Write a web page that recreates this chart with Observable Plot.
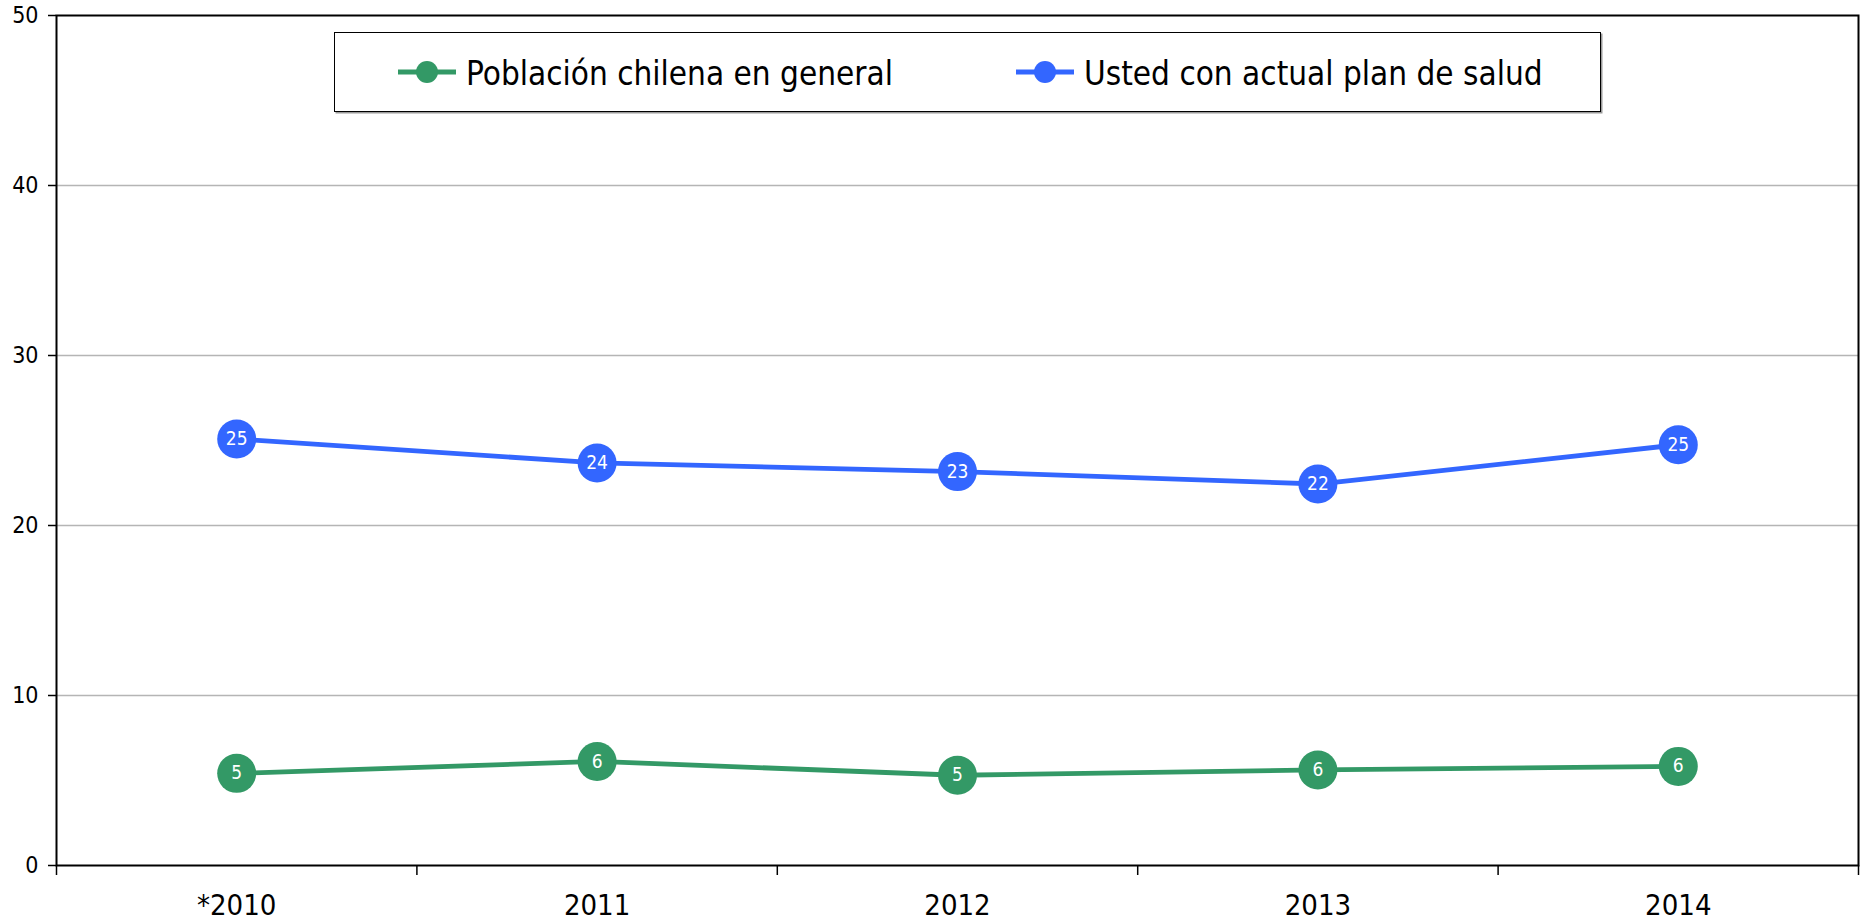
<!DOCTYPE html>
<html>
<head>
<meta charset="utf-8">
<script src="https://cdn.jsdelivr.net/npm/d3@7"></script>
<script src="https://cdn.jsdelivr.net/npm/@observablehq/plot@0.6"></script>
<style>
  html, body { margin: 0; padding: 0; background: white; }
  #wrap { position: relative; width: 1860px; height: 921px; overflow: hidden; font-family: "DejaVu Sans Condensed", "DejaVu Sans", sans-serif; font-stretch: condensed; }
  #legendBox { position: absolute; left: 334px; top: 32px; width: 1265px; height: 78px; border: 1.5px solid #000; box-shadow: 1.5px 1.5px 0 #9a9a9a; background: white; }
  .item { position: absolute; font-size: 33px; line-height: 1; color: #000; white-space: nowrap; }
  .sw { position: absolute; }
</style>
</head>
<body>
<div id="wrap"></div>
<script>
const categories = ["*2010", "2011", "2012", "2013", "2014"];
const seriesNames = ["Población chilena en general", "Usted con actual plan de salud"];
const seriesColors = ["#339966", "#3366FF"];
const poblacion = [5.42, 6.12, 5.31, 5.62, 5.83];
const usted = [25.09, 23.68, 23.17, 22.44, 24.75];
const poblacionLabels = ["5", "6", "5", "6", "6"];
const ustedLabels = ["25", "24", "23", "22", "25"];
const yTicks = [0, 10, 20, 30, 40, 50];
const gridTicks = [10, 20, 30, 40];

const rows = [];
categories.forEach((c, i) => {
  rows.push({pos: i + 0.5, value: poblacion[i], label: poblacionLabels[i], series: seriesNames[0]});
});
categories.forEach((c, i) => {
  rows.push({pos: i + 0.5, value: usted[i], label: ustedLabels[i], series: seriesNames[1]});
});
const boundaries = d3.range(categories.length + 1);
const centers = categories.map((c, i) => i + 0.5);

const chart = Plot.plot({
  width: 1860,
  height: 921,
  marginLeft: 56,
  marginRight: 2,
  marginTop: 15,
  marginBottom: 56,
  style: {fontFamily: '"DejaVu Sans Condensed", "DejaVu Sans", sans-serif', background: "white", overflow: "visible"},
  x: {type: "linear", domain: [0, categories.length], label: null},
  y: {domain: [0, 50], label: null},
  color: {domain: seriesNames, range: seriesColors},
  marks: [
    Plot.gridY(gridTicks, {stroke: "#b5b5b5", strokeOpacity: 1, strokeWidth: 1.3}),
    Plot.frame({stroke: "#000", strokeWidth: 2}),
    Plot.axisY(yTicks, {tickSize: 8, tickPadding: 10, fontSize: 23, stroke: "#000", strokeWidth: 1.5, fill: "#000"}),
    Plot.axisX(boundaries, {tickSize: 10, tickFormat: () => "", stroke: "#000", strokeWidth: 1.5}),
    Plot.axisX(centers, {tickSize: 0, tickPadding: 29, fontSize: 29, fill: "#000", tickFormat: d => categories[Math.floor(d)]}),
    Plot.line(rows, {x: "pos", y: "value", z: "series", stroke: "series", strokeWidth: 4.8}),
    Plot.dot(rows, {x: "pos", y: "value", r: 19.5, fill: "series", stroke: "none"}),
    Plot.text(rows, {x: "pos", y: "value", text: "label", fill: "white", fontSize: 19})
  ]
});

const wrap = document.getElementById("wrap");
wrap.appendChild(chart);

const box = document.createElement("div");
box.id = "legendBox";
wrap.appendChild(box);

const legendX = [[398, 466], [1016, 1084]];
seriesNames.forEach((name, k) => {
  const [sx, tx] = legendX[k];
  const sw = d3.create("svg").attr("class", "sw").attr("width", 58).attr("height", 26)
    .style("left", sx + "px").style("top", (72 - 13) + "px");
  sw.append("line").attr("x1", 0).attr("x2", 58).attr("y1", 13).attr("y2", 13)
    .attr("stroke", seriesColors[k]).attr("stroke-width", 4.8);
  sw.append("circle").attr("cx", 29).attr("cy", 13).attr("r", 11).attr("fill", seriesColors[k]);
  wrap.appendChild(sw.node());
  const t = document.createElement("div");
  t.className = "item";
  t.style.left = tx + "px";
  t.style.top = "57px";
  t.textContent = name;
  wrap.appendChild(t);
});
</script>
</body>
</html>
